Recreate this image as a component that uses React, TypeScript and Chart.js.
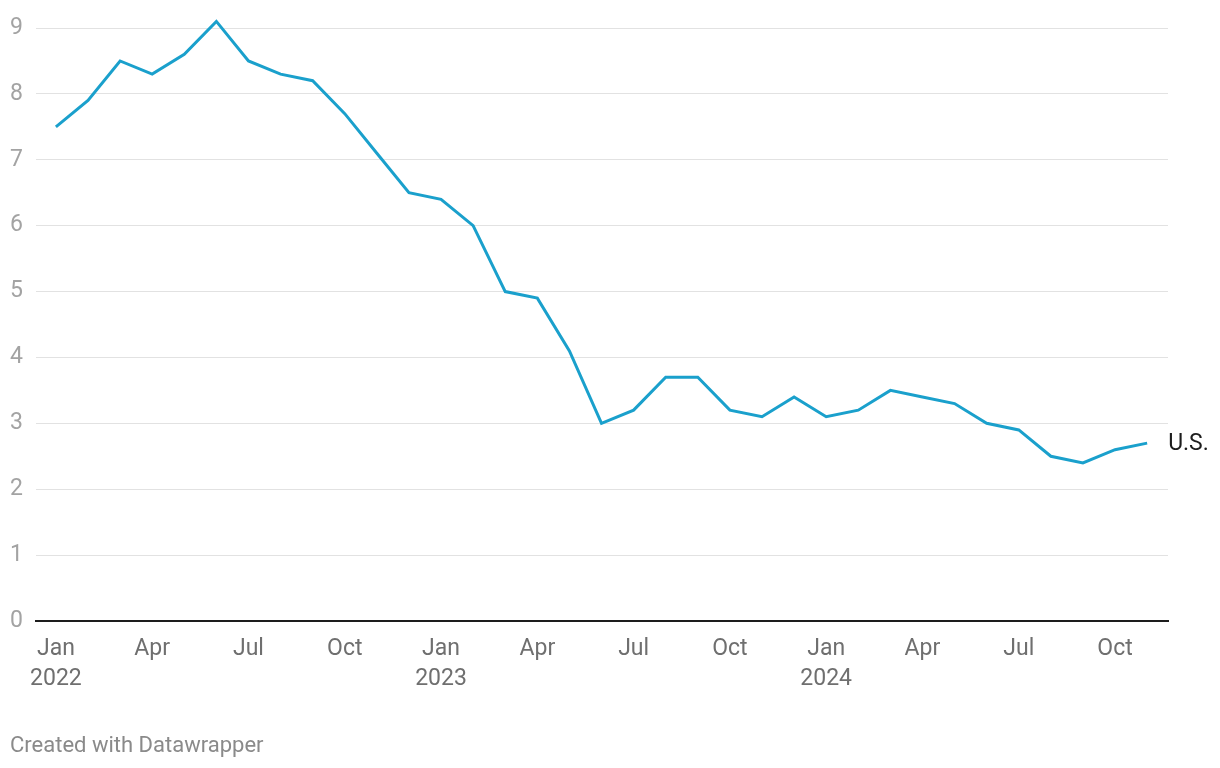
import React, { useEffect, useRef } from "react";
import { Chart, registerables } from "chart.js";

Chart.register(...registerables);

const months: string[] = [
  "2022-01","2022-02","2022-03","2022-04","2022-05","2022-06","2022-07","2022-08","2022-09","2022-10","2022-11","2022-12",
  "2023-01","2023-02","2023-03","2023-04","2023-05","2023-06","2023-07","2023-08","2023-09","2023-10","2023-11","2023-12",
  "2024-01","2024-02","2024-03","2024-04","2024-05","2024-06","2024-07","2024-08","2024-09","2024-10","2024-11",
];
const usValues: number[] = [
  7.5, 7.9, 8.5, 8.3, 8.6, 9.1, 8.5, 8.3, 8.2, 7.7, 7.1, 6.5,
  6.4, 6.0, 5.0, 4.9, 4.1, 3.0, 3.2, 3.7, 3.7, 3.2, 3.1, 3.4,
  3.1, 3.2, 3.5, 3.4, 3.3, 3.0, 2.9, 2.5, 2.4, 2.6, 2.7,
];
const xTickIndices: number[] = [0, 3, 6, 9, 12, 15, 18, 21, 24, 27, 30, 33];
const xTickLabels: (string | string[])[] = [
  ["Jan", "2022"], "Apr", "Jul", "Oct",
  ["Jan", "2023"], "Apr", "Jul", "Oct",
  ["Jan", "2024"], "Apr", "Jul", "Oct",
];
const seriesLabel = "U.S.";
const yTicks: number[] = [0, 1, 2, 3, 4, 5, 6, 7, 8, 9];

const FONT = "Roboto, 'Noto Sans', sans-serif";

export default function App() {
  const ref = useRef<HTMLCanvasElement | null>(null);

  useEffect(() => {
    document.body.style.margin = "0";
    if (!ref.current) return;
    const endLabel = {
      id: "endLabel",
      afterDatasetsDraw(chart: any) {
        const meta = chart.getDatasetMeta(0);
        const last = meta.data[meta.data.length - 1];
        if (!last) return;
        const ctx = chart.ctx;
        ctx.save();
        ctx.font = `23px ${FONT}`;
        ctx.fillStyle = "#1d1d1d";
        ctx.textAlign = "left";
        ctx.textBaseline = "middle";
        ctx.fillText(seriesLabel, last.x + 21, last.y + 1);
        ctx.restore();
      },
    };
    const chart = new Chart(ref.current, {
      type: "line",
      data: {
        datasets: [
          {
            label: seriesLabel,
            data: usValues.map((v, i) => ({ x: i, y: v })),
            borderColor: "#1aa0cc",
            borderWidth: 3,
            pointRadius: 0,
            tension: 0,
            clip: false as any,
            borderJoinStyle: "miter",
          },
        ],
      },
      options: {
        animation: false,
        responsive: false,
        maintainAspectRatio: false,
        layout: { padding: { top: 28, right: 52, left: 0, bottom: 0 } },
        plugins: { legend: { display: false }, tooltip: { enabled: false } },
        scales: {
          x: {
            type: "linear",
            min: -0.62,
            max: 34.65,
            afterBuildTicks: (scale: any) => {
              scale.ticks = xTickIndices.map((v) => ({ value: v }));
            },
            afterFit: (scale: any) => {
              scale.height = 147;
            },
            grid: { display: false, drawTicks: false },
            border: { display: true, color: "#1d1d1d", width: 2 },
            ticks: {
              autoSkip: false,
              maxRotation: 0,
              padding: 13,
              color: "#6f6f6f",
              font: { family: FONT, size: 23, lineHeight: 1.3 },
              callback: (v: any) => {
                const idx = xTickIndices.indexOf(Number(v));
                return idx >= 0 ? xTickLabels[idx] : "";
              },
            },
          },
          y: {
            min: 0,
            max: 9,
            afterBuildTicks: (scale: any) => {
              scale.ticks = yTicks.map((v) => ({ value: v }));
            },
            afterFit: (scale: any) => {
              scale.width = 36;
            },
            border: { display: false },
            grid: {
              drawTicks: false,
              color: (c: any) => (c.tick && c.tick.value === 0 ? "rgba(0,0,0,0)" : "#e2e2e2"),
              lineWidth: 1,
            },
            ticks: {
              padding: 13,
              color: "#a3a3a3",
              font: { family: FONT, size: 23 },
              callback: (v: any) => String(v),
            },
          },
        },
      },
      plugins: [endLabel],
    });
    return () => chart.destroy();
  }, []);

  return (
    <div style={{ position: "relative", width: 1220, height: 768, background: "#fff" }}>
      <canvas ref={ref} width={1220} height={768} style={{ position: "absolute", left: 0, top: 0 }} />
      <div
        style={{
          position: "absolute",
          left: 10,
          top: 732,
          fontFamily: FONT,
          fontSize: 22,
          color: "#8a8a8a",
          lineHeight: "26px",
        }}
      >
        Created with Datawrapper
      </div>
    </div>
  );
}
